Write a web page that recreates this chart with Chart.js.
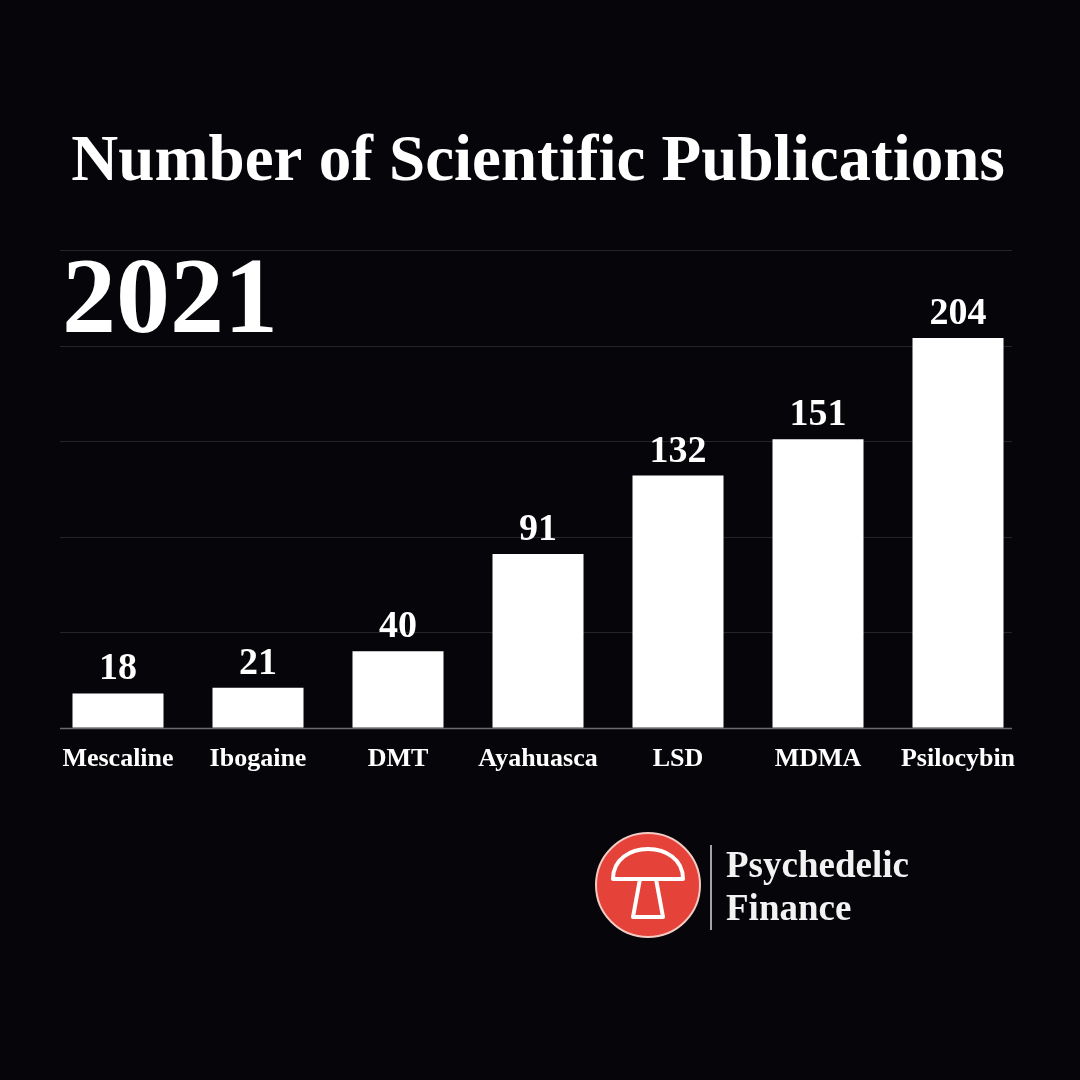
<!DOCTYPE html>
<html>
<head>
<meta charset="utf-8">
<script src="https://cdn.jsdelivr.net/npm/chart.js@4"></script>
<style>
  html, body { margin: 0; padding: 0; background: #06060a; }
  #wrap { width: 1080px; height: 1080px; position: relative; }
</style>
</head>
<body>
<div id="wrap"><canvas id="chart" width="1080" height="1080"></canvas></div>
<script>
var categories = ["Mescaline", "Ibogaine", "DMT", "Ayahuasca", "LSD", "MDMA", "Psilocybin"];
var publications = [18, 21, 40, 91, 132, 151, 204];
var yTicks = [0, 50, 100, 150, 200, 250];
var serif = "'Liberation Serif', 'DejaVu Serif', serif";

var decorPlugin = {
    id: "decor",
    beforeDatasetsDraw: function (chart) {
        var ctx = chart.ctx, y = chart.scales.y;
        ctx.save();
        yTicks.forEach(function (v) {
            var py = Math.round(y.getPixelForValue(v)) + 0.5;
            ctx.strokeStyle = v === 0 ? "#6a6a70" : "#24242a";
            ctx.lineWidth = v === 0 ? 1.5 : 1;
            ctx.beginPath();
            ctx.moveTo(60, py);
            ctx.lineTo(1012, py);
            ctx.stroke();
        });
        ctx.restore();
    },
    afterDatasetsDraw: function (chart) {
        var ctx = chart.ctx;
        var meta = chart.getDatasetMeta(0);
        ctx.save();
        ctx.fillStyle = "#ffffff";
        ctx.textAlign = "center";
        ctx.textBaseline = "alphabetic";
        ctx.font = "bold 38px " + serif;
        meta.data.forEach(function (bar, i) {
            ctx.fillText(String(publications[i]), bar.x, bar.y - 14);
        });

        // title
        ctx.font = "bold 65px " + serif;
        ctx.fillText("Number of Scientific Publications", 538, 180);
        // year
        ctx.textAlign = "left";
        ctx.font = "bold 108px " + serif;
        ctx.fillText("2021", 62, 332);

        // logo
        var cx = 648, cy = 885, r = 52;
        ctx.beginPath();
        ctx.arc(cx, cy, r, 0, Math.PI * 2);
        ctx.fillStyle = "#e5433a";
        ctx.fill();
        ctx.strokeStyle = "#f3c9c4";
        ctx.lineWidth = 2;
        ctx.stroke();
        ctx.strokeStyle = "#ffffff";
        ctx.lineWidth = 4;
        ctx.lineJoin = "round";
        ctx.beginPath();
        ctx.moveTo(cx - 35, cy - 6);
        ctx.bezierCurveTo(cx - 35, cy - 46, cx + 35, cy - 46, cx + 35, cy - 6);
        ctx.closePath();
        ctx.stroke();
        ctx.beginPath();
        ctx.moveTo(cx - 8, cy - 6);
        ctx.lineTo(cx - 15, cy + 32);
        ctx.lineTo(cx + 15, cy + 32);
        ctx.lineTo(cx + 8, cy - 6);
        ctx.stroke();

        ctx.strokeStyle = "#d8d8d8";
        ctx.lineWidth = 1.5;
        ctx.beginPath();
        ctx.moveTo(711, 845);
        ctx.lineTo(711, 930);
        ctx.stroke();

        ctx.fillStyle = "#f2f2f2";
        ctx.font = "bold 37px " + serif;
        ctx.fillText("Psychedelic", 726, 877);
        ctx.fillText("Finance", 726, 920);
        ctx.restore();
    }
};

new Chart(document.getElementById("chart").getContext("2d"), {
    type: "bar",
    data: {
        labels: categories,
        datasets: [{
            data: publications,
            backgroundColor: "#ffffff",
            borderWidth: 0,
            barPercentage: 0.65,
            categoryPercentage: 1
        }]
    },
    options: {
        responsive: false,
        animation: false,
        layout: { padding: { left: 48, right: 52, top: 250, bottom: 289 } },
        plugins: { legend: { display: false }, tooltip: { enabled: false } },
        scales: {
            x: {
                grid: { display: false, drawTicks: false },
                border: { display: false },
                ticks: {
                    color: "#ffffff",
                    padding: 16,
                    maxRotation: 0,
                    autoSkip: false,
                    font: { family: serif, weight: "bold", size: 26 }
                }
            },
            y: {
                display: false,
                min: 0,
                max: 250,
                ticks: { stepSize: 50 }
            }
        }
    },
    plugins: [decorPlugin]
});
</script>
</body>
</html>
